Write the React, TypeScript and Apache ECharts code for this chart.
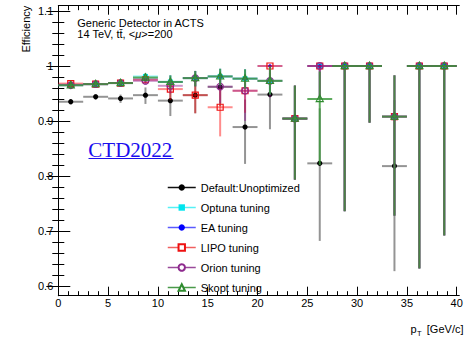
import React, { useEffect, useRef } from "react";
import * as echarts from "echarts";

// ---------- data ----------
const binCenters = [1.25, 3.75, 6.25, 8.75, 11.25, 13.75, 16.25, 18.75, 21.25, 23.75, 26.25, 28.75, 31.25, 33.75, 36.25, 38.75];
const binHalfWidth = 1.25;

const defaultEff = [0.935, 0.944, 0.941, 0.947, 0.937, 0.947, 0.962, 0.889, 0.948, 0.904, 0.823, 1.0, 1.0, 0.818, 1.0, 1.0];
const defaultLo = [0.005, 0.005, 0.008, 0.016, 0.028, 0.033, 0.035, 0.067, 0.063, 0.111, 0.141, 0.264, 0.103, 0.191, 0.368, 0.308];
const defaultHi = [0.005, 0.005, 0.007, 0.014, 0.025, 0.028, 0.025, 0.05, 0.04, 0.06, 0.1, 0, 0, 0.12, 0, 0];

const optunaEff = [0.965, 0.967, 0.969, 0.981, 0.971, 0.978, 0.981, 0.977, 0.973, 0.9045, 1.0, 1.0, 1.0, 0.908, 1.0, 1.0];
const optunaLo = [0.004, 0.004, 0.004, 0.006, 0.012, 0.015, 0.016, 0.018, 0.025, 0.111, 0.06, 0.264, 0.103, 0.18, 0.368, 0.308];
const optunaHi = [0.004, 0.004, 0.004, 0.006, 0.012, 0.013, 0.014, 0.017, 0.02, 0.06, 0, 0, 0, 0.075, 0, 0];

const eaEff = [0.966, 0.967, 0.969, 0.976, 0.971, 0.978, 0.981, 0.977, 1.0, 0.9045, 1.0, 1.0, 1.0, 0.908, 1.0, 1.0];
const eaLo = [0.004, 0.004, 0.004, 0.006, 0.012, 0.015, 0.016, 0.018, 0.03, 0.111, 0.06, 0.264, 0.103, 0.18, 0.368, 0.308];
const eaHi = [0.004, 0.004, 0.004, 0.006, 0.012, 0.013, 0.014, 0.017, 0, 0.06, 0, 0, 0, 0.075, 0, 0];

const lipoEff = [0.968, 0.967, 0.969, 0.975, 0.958, 0.947, 0.925, 0.955, 1.0, 0.9045, 1.0, 1.0, 1.0, 0.908, 1.0, 1.0];
const lipoLo = [0.004, 0.004, 0.004, 0.007, 0.02, 0.033, 0.053, 0.04, 0.03, 0.111, 0.06, 0.264, 0.103, 0.18, 0.368, 0.308];
const lipoHi = [0.004, 0.004, 0.004, 0.007, 0.015, 0.025, 0.035, 0.025, 0, 0.06, 0, 0, 0, 0.075, 0, 0];

const orionEff = [0.965, 0.967, 0.969, 0.973, 0.964, 0.978, 0.9625, 0.955, 0.973, 0.9045, 1.0, 1.0, 1.0, 0.908, 1.0, 1.0];
const orionLo = [0.004, 0.004, 0.004, 0.007, 0.014, 0.015, 0.03, 0.055, 0.03, 0.111, 0.06, 0.264, 0.103, 0.18, 0.368, 0.308];
const orionHi = [0.004, 0.004, 0.004, 0.007, 0.013, 0.013, 0.02, 0.03, 0.02, 0.06, 0, 0, 0, 0.075, 0, 0];

const skoptEff = [0.965, 0.967, 0.969, 0.979, 0.971, 0.978, 0.981, 0.977, 0.973, 0.9045, 0.94, 1.0, 1.0, 0.908, 1.0, 1.0];
const skoptLo = [0.004, 0.004, 0.004, 0.007, 0.012, 0.015, 0.016, 0.018, 0.025, 0.111, 0.12, 0.264, 0.103, 0.18, 0.368, 0.308];
const skoptHi = [0.004, 0.004, 0.004, 0.007, 0.012, 0.013, 0.014, 0.017, 0.026, 0.06, 0.05, 0, 0, 0.075, 0, 0];

const xMajorTicks = [0, 5, 10, 15, 20, 25, 30, 35, 40];
const yMajorTicks = [0.6, 0.7, 0.8, 0.9, 1.0, 1.1];

// ---------- styling ----------
const FONT = "'Liberation Sans', Arial, Helvetica, sans-serif";
const X_MIN = 0, X_MAX = 40.26;
const Y_MIN = 0.5824, Y_MAX = 1.1096;

const xMinorTicks = Array.from({ length: 41 }, (_, i) => i).filter((v) => v % 5 !== 0);
const yMinorTicks = Array.from({ length: 26 }, (_, i) => Math.round((0.6 + i * 0.02) * 100) / 100).filter(
  (v) => Math.round(v * 100) % 10 !== 0
);

type Tuning = {
  name: string; eff: number[]; lo: number[]; hi: number[];
  color: string; bar: string; legendLine: string; marker: string; symbol: string;
};

const tunings: Tuning[] = [
  { name: "Default:Unoptimized", eff: defaultEff, lo: defaultLo, hi: defaultHi, color: "#000000", bar: "rgba(0,0,0,0.42)", legendLine: "#111111", marker: "dot", symbol: "circle" },
  { name: "Optuna tuning", eff: optunaEff, lo: optunaLo, hi: optunaHi, color: "#00e5ee", bar: "rgba(0,230,240,0.4)", legendLine: "#55f0f5", marker: "square", symbol: "rect" },
  { name: "EA tuning", eff: eaEff, lo: eaLo, hi: eaHi, color: "#0000ff", bar: "rgba(0,0,255,0.3)", legendLine: "#5a5aff", marker: "smalldot", symbol: "circle" },
  { name: "LIPO tuning", eff: lipoEff, lo: lipoLo, hi: lipoHi, color: "#ee1111", bar: "rgba(255,0,0,0.45)", legendLine: "#f06060", marker: "openSquare", symbol: "emptyRect" },
  { name: "Orion tuning", eff: orionEff, lo: orionLo, hi: orionHi, color: "#8e2a8e", bar: "rgba(140,20,140,0.45)", legendLine: "#9a4a9a", marker: "openCircle", symbol: "emptyCircle" },
  { name: "Skopt tuning", eff: skoptEff, lo: skoptLo, hi: skoptHi, color: "#2e8b2e", bar: "rgba(55,150,55,0.8)", legendLine: "#4a9a4a", marker: "openTriangle", symbol: "emptyTriangle" },
];

function markerEl(kind: string, cx: number, cy: number, color: string) {
  switch (kind) {
    case "dot":
      return { type: "circle", shape: { cx, cy, r: 2.6 }, style: { fill: color } };
    case "smalldot":
      return { type: "circle", shape: { cx, cy, r: 1.8 }, style: { fill: color } };
    case "square":
      return { type: "rect", shape: { x: cx - 2.5, y: cy - 2.5, width: 5, height: 5 }, style: { fill: color } };
    case "openSquare":
      return { type: "rect", shape: { x: cx - 3, y: cy - 3, width: 6, height: 6 }, style: { fill: "none", stroke: color, lineWidth: 1.2 } };
    case "openCircle":
      return { type: "circle", shape: { cx, cy, r: 3.3 }, style: { fill: "none", stroke: color, lineWidth: 1.2 } };
    default:
      return {
        type: "polygon",
        shape: { points: [[cx, cy - 4], [cx - 3.6, cy + 2.6], [cx + 3.6, cy + 2.6]] },
        style: { fill: "none", stroke: color, lineWidth: 1.1 },
      };
  }
}

function xAxisDef(position: "top" | "bottom", ticks: number[], len: number, labels: boolean, line: boolean) {
  return {
    type: "value", position, min: X_MIN, max: X_MAX,
    axisLine: { show: line, lineStyle: { color: "#000", width: 1 } },
    axisTick: { show: true, inside: true, length: len, customValues: ticks, lineStyle: { color: "#000", width: 1 } },
    axisLabel: labels
      ? { show: true, customValues: xMajorTicks, margin: 2, fontSize: 11, fontFamily: FONT, color: "#000" }
      : { show: false },
    splitLine: { show: false },
  };
}

function yAxisDef(position: "left" | "right", ticks: number[], len: number, labels: boolean, line: boolean) {
  return {
    type: "value", position, min: Y_MIN, max: Y_MAX,
    axisLine: { show: line, lineStyle: { color: "#000", width: 1 } },
    axisTick: { show: true, inside: true, length: len, customValues: ticks, lineStyle: { color: "#000", width: 1 } },
    axisLabel: labels
      ? {
          show: true, customValues: yMajorTicks, margin: 5, fontSize: 11, fontFamily: FONT, color: "#000",
          formatter: (v: number) => String(Math.round(v * 10) / 10),
        }
      : { show: false },
    splitLine: { show: false },
  };
}

function buildOption() {
  const series: any[] = [];
  tunings.forEach((t) => {
    series.push({
      type: "line", name: t.name, data: [], symbol: t.symbol,
      itemStyle: { color: t.color }, lineStyle: { color: t.legendLine, width: 1.5 },
      xAxisIndex: 0, yAxisIndex: 0,
    });
  });
  tunings.forEach((t, i) => {
    const rows = binCenters.map((x, k) => [x, t.eff[k], t.lo[k], t.hi[k], binHalfWidth]);
    series.push({
      type: "custom", name: t.name + " points", xAxisIndex: 0, yAxisIndex: 0, z: 3 + i,
      encode: { x: 0, y: 1 }, data: rows,
      renderItem: (_p: any, api: any) => {
        const x = api.value(0), y = api.value(1), lo = api.value(2), hi = api.value(3), xe = api.value(4);
        const c = api.coord([x, y]);
        const l = api.coord([x - xe, y]);
        const r = api.coord([x + xe, y]);
        const b = api.coord([x, y - lo]);
        const tp = api.coord([x, y + hi]);
        const bs = { stroke: t.bar, lineWidth: 2 };
        return {
          type: "group",
          children: [
            { type: "line", shape: { x1: l[0], y1: c[1], x2: r[0], y2: c[1] }, style: bs },
            { type: "line", shape: { x1: c[0], y1: tp[1], x2: c[0], y2: b[1] }, style: bs },
            markerEl(t.marker, c[0], c[1], t.color),
          ],
        };
      },
    });
  });

  return {
    animation: false,
    backgroundColor: "#ffffff",
    grid: { left: 58.3, right: 12.7, top: 5.7, bottom: 41.3, containLabel: false },
    xAxis: [
      xAxisDef("bottom", xMajorTicks, 9, true, true),
      xAxisDef("bottom", xMinorTicks, 4.5, false, false),
      xAxisDef("top", xMajorTicks, 9, false, true),
      xAxisDef("top", xMinorTicks, 4.5, false, false),
    ],
    yAxis: [
      yAxisDef("left", yMajorTicks, 12, true, true),
      yAxisDef("left", yMinorTicks, 6, false, false),
      yAxisDef("right", yMajorTicks, 12, false, true),
      yAxisDef("right", yMinorTicks, 6, false, false),
    ],
    legend: {
      orient: "vertical", left: 162, top: 176.5, itemWidth: 28, itemHeight: 8, itemGap: 8,
      selectedMode: false,
      textStyle: { fontSize: 11, fontFamily: FONT, color: "#000", lineHeight: 12 },
      data: tunings.map((t) => ({ name: t.name, lineStyle: { color: t.legendLine, width: 1.5, opacity: 1 } })),
    },
    graphic: [
      { type: "text", x: 77.3, y: 22.7, style: { text: "Generic Detector in ACTS", font: `11px ${FONT}`, fill: "#000", verticalAlign: "middle" } },
      {
        type: "text", x: 77.3, y: 34.3,
        style: {
          text: "14 TeV, tt\u0304, <{i|\u03bc}>=200", font: `11px ${FONT}`, fill: "#000", verticalAlign: "middle",
          rich: { i: { fontStyle: "italic", fontSize: 11, fontFamily: FONT } },
        },
      },
      {
        type: "text", x: 25.7, y: 5.7, rotation: Math.PI / 2,
        style: { text: "Efficiency", font: `11px ${FONT}`, fill: "#000", align: "right", verticalAlign: "middle" },
      },
      { type: "text", x: 416.7, y: 329, style: { text: "p", font: `11px ${FONT}`, fill: "#000", align: "right", verticalAlign: "middle" } },
      { type: "text", x: 416.9, y: 333.2, style: { text: "T", font: `7.5px ${FONT}`, fill: "#000", align: "left", verticalAlign: "middle" } },
      { type: "text", x: 463.5, y: 329, style: { text: "[GeV/c]", font: `11px ${FONT}`, fill: "#000", align: "right", verticalAlign: "middle" } },
      { type: "text", x: 88.3, y: 149.5, style: { text: "CTD2022", font: `21px 'Liberation Serif', 'Times New Roman', serif`, fill: "#1a0dee", verticalAlign: "middle" } },
      { type: "line", shape: { x1: 88.5, y1: 158.5, x2: 173.5, y2: 158.5 }, style: { stroke: "#1a0dee", lineWidth: 1 } },
    ],
    series,
  };
}

export default function App() {
  const ref = useRef<HTMLDivElement>(null);
  useEffect(() => {
    if (!ref.current) return;
    const chart = echarts.init(ref.current, null, { renderer: "svg", width: 472, height: 337 });
    chart.setOption(buildOption() as any);
    return () => chart.dispose();
  }, []);
  return (
    <div
      ref={ref}
      style={{ position: "fixed", left: 0, top: 0, width: 472, height: 337, background: "#ffffff" }}
    />
  );
}
